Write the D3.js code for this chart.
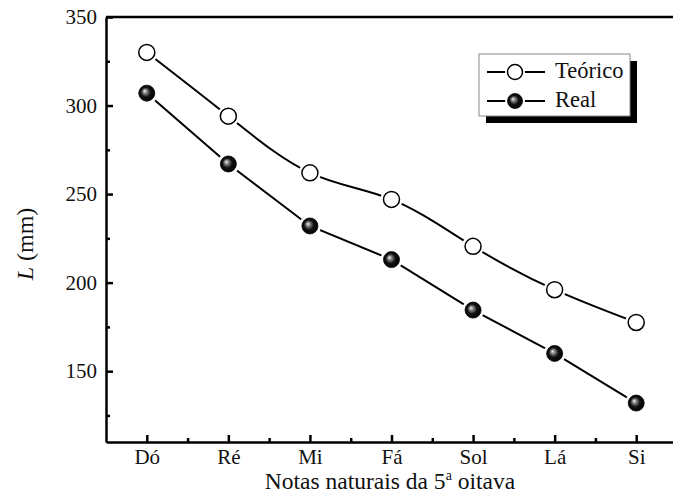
<!DOCTYPE html>
<html>
<head>
<meta charset="utf-8">
<script src="https://cdn.jsdelivr.net/npm/d3@7"></script>
<style>
  body { margin: 0; background: #fff; }
  svg text { font-family: "Liberation Serif", "Times New Roman", "DejaVu Serif", serif; }
</style>
</head>
<body>
<div id="chart"></div>
<script>
// data
const notes = ["Dó", "Ré", "Mi", "Fá", "Sol", "Lá", "Si"]
const teorico = [330, 294, 262, 247, 220.5, 196, 177.5]
const real = [307, 267, 232, 213, 184.5, 160, 132]
const yTicks = [150, 200, 250, 300, 350]
const yMinor = [125, 175, 225, 275, 325]

const width = 673, height = 495
const serif = "'Liberation Serif', 'Times New Roman', serif"

const svg = d3.select("#chart")
    .append("svg")
    .attr("width", width)
    .attr("height", height)

const x = d3.scaleLinear().domain([-0.5, 6.5]).range([106, 677])
const y = d3.scaleLinear().domain([110, 350]).range([442, 17])

// sphere shading for the "Real" markers
const grad = svg.append("defs").append("radialGradient")
    .attr("id", "sphere")
    .attr("cx", "0.5").attr("cy", "0.5").attr("r", "0.55")
    .attr("fx", "0.36").attr("fy", "0.36")
grad.append("stop").attr("offset", "0%").attr("stop-color", "#ffffff")
grad.append("stop").attr("offset", "18%").attr("stop-color", "#9a9a9a")
grad.append("stop").attr("offset", "55%").attr("stop-color", "#111")
grad.append("stop").attr("offset", "100%").attr("stop-color", "#000")

// axes, ticks pointing inward
svg.append("g")
    .attr("transform", "translate(0," + y.range()[0] + ")")
    .call(d3.axisBottom(x).tickValues(d3.range(notes.length)).tickSize(-7).tickSizeOuter(0)
        .tickPadding(7).tickFormat(i => notes[i]))
svg.append("g")
    .attr("transform", "translate(0," + y.range()[0] + ")")
    .call(d3.axisBottom(x).tickValues(d3.range(notes.length - 1).map(i => i + 0.5)).tickSize(-4)
        .tickSizeOuter(0).tickFormat(""))
    .call(g => g.select(".domain").remove())

svg.append("g")
    .attr("transform", "translate(" + x.range()[0] + ",0)")
    .call(d3.axisLeft(y).tickValues(yTicks).tickSize(-7).tickSizeOuter(0).tickPadding(9))
svg.append("g")
    .attr("transform", "translate(" + x.range()[0] + ",0)")
    .call(d3.axisLeft(y).tickValues(yMinor).tickSize(-4).tickSizeOuter(0).tickFormat(""))
    .call(g => g.select(".domain").remove())

svg.selectAll("g").attr("font-family", null)
svg.selectAll(".domain, .tick line").attr("stroke", "#000").attr("stroke-width", 2.5)
svg.selectAll(".tick text").attr("font-size", 21).attr("fill", "#111")

// top frame line
svg.append("line")
    .attr("x1", x.range()[0]).attr("x2", x.range()[1])
    .attr("y1", y.range()[1]).attr("y2", y.range()[1])
    .attr("stroke", "#000").attr("stroke-width", 2.5)

// axis titles
const xt = svg.append("text")
    .attr("x", 390).attr("y", 489)
    .attr("text-anchor", "middle")
    .attr("font-size", 23.5)
    .attr("fill", "#111")
xt.append("tspan").text("Notas naturais da 5")
xt.append("tspan").attr("font-size", 14).attr("dy", -9).text("a")
xt.append("tspan").attr("dy", 9).text(" oitava")

const yt = svg.append("text")
    .attr("transform", "translate(33,244) rotate(-90)")
    .attr("text-anchor", "middle")
    .attr("font-size", 24)
    .attr("fill", "#111")
yt.append("tspan").attr("font-style", "italic").text("L")
yt.append("tspan").text(" (mm)")

// lines
const lineT = d3.line().x((d, i) => x(i)).y(d => y(d)).curve(d3.curveNatural)
const lineR = d3.line().x((d, i) => x(i)).y(d => y(d))

svg.append("path").datum(teorico).attr("d", lineT)
    .attr("fill", "none").attr("stroke", "#000").attr("stroke-width", 2)
svg.append("path").datum(real).attr("d", lineR)
    .attr("fill", "none").attr("stroke", "#000").attr("stroke-width", 2)

// white halo gives the gap between line and marker
function markers(data, open) {
    const g = svg.append("g")
    g.selectAll("circle.halo").data(data).enter().append("circle")
        .attr("cx", (d, i) => x(i)).attr("cy", d => y(d)).attr("r", 11).attr("fill", "#fff")
    g.selectAll("circle.mk").data(data).enter().append("circle")
        .attr("cx", (d, i) => x(i)).attr("cy", d => y(d)).attr("r", 8)
        .attr("fill", open ? "#fff" : "url(#sphere)")
        .attr("stroke", "#000").attr("stroke-width", open ? 1.5 : 0.8)
}
markers(teorico, true)
markers(real, false)

// legend
const lg = svg.append("g")
lg.append("rect").attr("x", 486).attr("y", 61).attr("width", 151).attr("height", 62).attr("fill", "#000")
lg.append("rect").attr("x", 479).attr("y", 54).attr("width", 151).attr("height", 62)
    .attr("fill", "#fff").attr("stroke", "#888").attr("stroke-width", 1)

const entries = [{ name: "Teórico", open: true, yy: 72 }, { name: "Real", open: false, yy: 101 }]
entries.forEach(e => {
    lg.append("line").attr("x1", 487).attr("x2", 545).attr("y1", e.yy).attr("y2", e.yy)
        .attr("stroke", "#000").attr("stroke-width", 2)
    lg.append("circle").attr("cx", 515).attr("cy", e.yy).attr("r", 10).attr("fill", "#fff")
    lg.append("circle").attr("cx", 515).attr("cy", e.yy).attr("r", 7.5)
        .attr("fill", e.open ? "#fff" : "url(#sphere)")
        .attr("stroke", "#000").attr("stroke-width", e.open ? 1.5 : 0.8)
    lg.append("text").attr("x", 555).attr("y", e.yy + 5.5)
        .attr("font-size", 22.5).attr("fill", "#111").text(e.name)
})

svg.selectAll("text").style("font-family", serif)
</script>
</body>
</html>
